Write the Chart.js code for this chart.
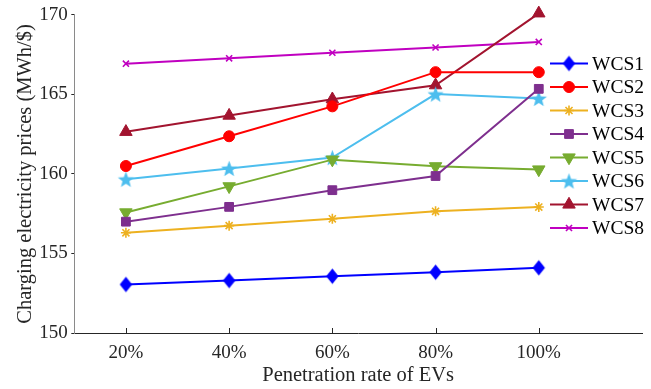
<!DOCTYPE html>
<html>
<head>
<meta charset="utf-8">
<script src="https://cdn.jsdelivr.net/npm/chart.js@4/dist/chart.umd.min.js"></script>
<style>
  html, body { margin: 0; padding: 0; background: #ffffff; }
  #wrap { width: 651px; height: 389px; position: relative; }
</style>
</head>
<body>
<div id="wrap"><canvas id="c" width="651" height="389"></canvas></div>
<script>
// ---- data ----
const categories = ['20%', '40%', '60%', '80%', '100%'];
const seriesNames = ['WCS1', 'WCS2', 'WCS3', 'WCS4', 'WCS5', 'WCS6', 'WCS7', 'WCS8'];
const wcs1 = [153.05, 153.30, 153.57, 153.82, 154.10];
const wcs2 = [160.50, 162.37, 164.25, 166.40, 166.40];
const wcs3 = [156.30, 156.75, 157.18, 157.65, 157.92];
const wcs4 = [157.00, 157.93, 158.98, 159.87, 165.35];
const wcs5 = [157.58, 159.22, 160.90, 160.48, 160.28];
const wcs6 = [159.67, 160.35, 161.03, 165.02, 164.75];
const wcs7 = [162.65, 163.67, 164.70, 165.58, 170.10];
const wcs8 = [166.93, 167.27, 167.62, 167.95, 168.30];
const yTicks = [150, 155, 160, 165, 170];

const FONT = "'Liberation Serif', 'Times New Roman', serif";
const AX = '#262626';

function makeStar(color, outer, inner) {
  const s = Math.ceil(outer * 2 + 2);
  const c = document.createElement('canvas');
  c.width = s; c.height = s;
  const g = c.getContext('2d');
  g.fillStyle = color;
  g.beginPath();
  for (let i = 0; i < 10; i++) {
    const r = i % 2 === 0 ? outer : inner;
    const a = -Math.PI / 2 + i * Math.PI / 5;
    const px = s / 2 + r * Math.cos(a), py = s / 2 + r * Math.sin(a) + 0.8;
    if (i === 0) g.moveTo(px, py); else g.lineTo(px, py);
  }
  g.closePath(); g.fill();
  return c;
}
function makeDiamond(color, hw, hh) {
  const w = Math.ceil(hw * 2 + 2), h = Math.ceil(hh * 2 + 2);
  const c = document.createElement('canvas');
  c.width = w; c.height = h;
  const g = c.getContext('2d');
  g.fillStyle = color;
  g.beginPath();
  g.moveTo(w / 2, h / 2 - hh); g.lineTo(w / 2 + hw, h / 2);
  g.lineTo(w / 2, h / 2 + hh); g.lineTo(w / 2 - hw, h / 2);
  g.closePath(); g.fill();
  return c;
}

const colors = ['#0000FF', '#FF0000', '#EDB120', '#7E2F8E', '#77AC30', '#4DBEEE', '#A2142F', '#C000C0'];
const values = [wcs1, wcs2, wcs3, wcs4, wcs5, wcs6, wcs7, wcs8];
const styles = [
  { pointStyle: makeDiamond(colors[0], 6.2, 7.8), pointRadius: 7 },
  { pointStyle: 'circle', pointRadius: 5.5 },
  { pointStyle: 'star', pointRadius: 5, bw: 1.6 },
  { pointStyle: 'rect', pointRadius: 6.2 },
  { pointStyle: 'triangle', pointRadius: 7.2, rotation: 180 },
  { pointStyle: makeStar(colors[5], 8.5, 3.6), pointRadius: 8 },
  { pointStyle: 'triangle', pointRadius: 7.2 },
  { pointStyle: 'crossRot', pointRadius: 4.3, bw: 1.6 }
];

const datasets = seriesNames.map((name, k) => ({
  label: name,
  data: values[k].map((v, i) => ({ x: i, y: v })),
  borderColor: colors[k],
  backgroundColor: colors[k],
  pointBackgroundColor: colors[k],
  pointBorderColor: colors[k],
  pointBorderWidth: styles[k].bw || 1,
  pointStyle: styles[k].pointStyle,
  pointRadius: styles[k].pointRadius,
  pointRotation: styles[k].rotation || 0,
  borderWidth: 2,
  tension: 0,
  clip: false
}));

const legendPlugin = {
  id: 'matlabLegend',
  afterDraw(chart) {
    const ctx = chart.ctx;
    const x0 = 550, x1 = 588, xt = 592, y0 = 63.5, dy = 23.5;
    ctx.save();
    chart.data.datasets.forEach((ds, k) => {
      const y = y0 + k * dy;
      ctx.strokeStyle = ds.borderColor; ctx.lineWidth = 2;
      ctx.beginPath(); ctx.moveTo(x0, y); ctx.lineTo(x1, y); ctx.stroke();
      ctx.fillStyle = ds.pointBackgroundColor; ctx.strokeStyle = ds.pointBorderColor;
      ctx.lineWidth = ds.pointBorderWidth;
      Chart.helpers.drawPoint(ctx, {
        pointStyle: ds.pointStyle, radius: ds.pointRadius,
        rotation: ds.pointRotation, borderWidth: ds.pointBorderWidth
      }, (x0 + x1) / 2, y);
      ctx.fillStyle = '#000000';
      ctx.font = "19.5px 'Liberation Serif'";
      ctx.textBaseline = 'middle'; ctx.textAlign = 'left';
      ctx.fillText(ds.label, xt, y + 1);
    });
    ctx.restore();
  }
};

const xTickPlugin = {
  id: 'inwardXTicks',
  afterDatasetsDraw(chart) {
    const ctx = chart.ctx, xs = chart.scales.x, ys = chart.scales.y;
    const yb = ys.getPixelForValue(150);
    ctx.save();
    ctx.strokeStyle = AX; ctx.lineWidth = 1;
    categories.forEach((c, i) => {
      const px = Math.round(xs.getPixelForValue(i)) + 0.5;
      ctx.beginPath(); ctx.moveTo(px, yb); ctx.lineTo(px, yb - 5); ctx.stroke();
    });
    ctx.restore();
  }
};

new Chart(document.getElementById('c'), {
  type: 'line',
  data: { datasets },
  plugins: [xTickPlugin, legendPlugin],
  options: {
    responsive: false,
    animation: false,
    events: [],
    layout: { padding: { top: 13.4, right: 1, left: 0, bottom: 0 } },
    plugins: { legend: { display: false }, tooltip: { enabled: false } },
    scales: {
      x: {
        type: 'linear',
        min: -0.5, max: 5,
        afterBuildTicks(s) { s.ticks = categories.map((c, i) => ({ value: i })); },
        afterFit(s) { s.height = 56; },
        ticks: {
          callback: (v) => categories[v] !== undefined ? categories[v] : '',
          color: AX, font: { family: FONT, size: 19 }, padding: 9, maxRotation: 0, autoSkip: false
        },
        grid: { display: true, drawOnChartArea: false, drawTicks: false, color: AX },
        border: { display: true, color: AX, width: 1 },
        title: { display: true, text: 'Penetration rate of EVs', color: AX, font: { family: FONT, size: 20.5 }, padding: { top: 0, bottom: 1 } }
      },
      y: {
        min: 150, max: 170,
        afterBuildTicks(s) { s.ticks = yTicks.map(v => ({ value: v })); },
        afterFit(s) { s.width = 74.3; },
        ticks: { color: AX, font: { family: FONT, size: 19 }, padding: 3.5 },
        grid: { display: true, drawOnChartArea: false, drawTicks: true, tickLength: 3, color: AX },
        border: { display: true, color: '#8a8a8a', width: 1 },
        title: { display: true, text: 'Charging electricity prices (MWh/$)', color: AX, font: { family: FONT, size: 20.5 }, padding: { top: 13, bottom: 0 } }
      }
    }
  }
});
</script>
</body>
</html>
